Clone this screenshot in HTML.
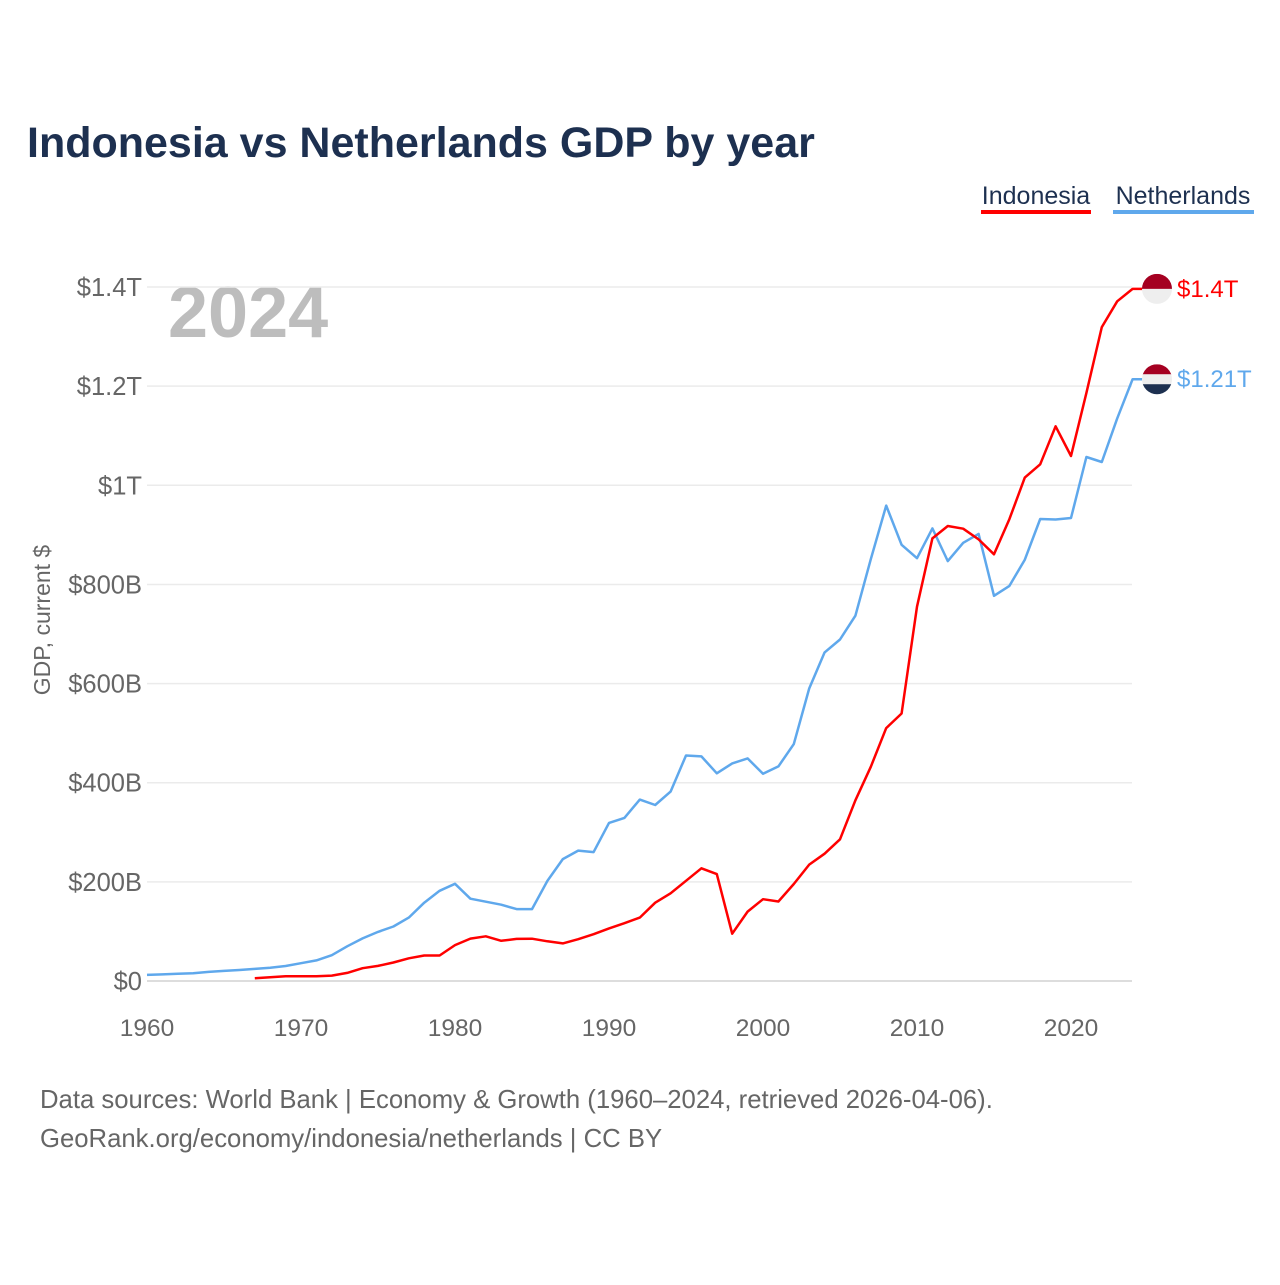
<!DOCTYPE html>
<html><head><meta charset="utf-8"><style>
body{margin:0;width:1280px;height:1280px;background:#fff;font-family:"Liberation Sans",sans-serif;overflow:hidden}
</style></head><body>
<svg width="1280" height="1280" id="chart" font-family="Liberation Sans, sans-serif">
<text x="27" y="157" font-size="43" font-weight="bold" fill="#1d3050">Indonesia vs Netherlands GDP by year</text>
<g>
<text x="1036" y="204" font-size="25" fill="#1d3050" text-anchor="middle">Indonesia</text>
<rect x="981" y="210" width="110" height="4" fill="#ff0000"/>
<text x="1183" y="204" font-size="25" fill="#1d3050" text-anchor="middle">Netherlands</text>
<rect x="1113" y="210" width="141" height="4" fill="#5fa8ec"/>
</g>
<text x="168" y="337" font-size="72" font-weight="bold" fill="#bdbdbd">2024</text>
<text transform="translate(50,620) rotate(-90)" font-size="23" fill="#666" text-anchor="middle">GDP, current $</text>
<g id="grid"></g><g id="lines"></g><g id="ends"></g>
<text x="40" y="1108" font-size="25.7" fill="#666">Data sources: World Bank | Economy &amp; Growth (1960–2024, retrieved 2026-04-06).</text>
<text x="40" y="1147" font-size="25.7" fill="#666">GeoRank.org/economy/indonesia/netherlands | CC BY</text>
</svg>
<script>
const yTicks=[0,200,400,600,800,1000,1200,1400];
const yTickLabels=["$0","$200B","$400B","$600B","$800B","$1T","$1.2T","$1.4T"];
const xTicks=[1960,1970,1980,1990,2000,2010,2020];
const nlStart=1960;
const nlValues=[12.3,13.3,14.5,15.6,18.3,20.4,22.2,24.4,26.9,30.3,36,41.5,52,70,86,99,110,128,158,182,196,166,160,154,145,145,202,246,263,260,319,329,366,355,382,455,453,419,439,449,418,433,478,590,663,689,737,851,959,880,853,913,847,884,902,777,797,850,932,931,934,1057,1047,1135,1214];
const idStart=1967;
const idValues=[5.7,7.6,9.6,9.7,9.5,10.8,16.3,25.8,30.5,37.3,45.8,51.4,51.5,72.5,85.5,90.2,81.1,85,85.3,80.1,75.9,84.3,94.5,106.1,116.6,128,158,176.9,202.1,227.4,215.7,95.4,140,165,160.4,195.7,234.8,256.8,285.9,364.6,432.2,510.2,539.6,755.1,892.9,917.9,912.5,890.8,860.9,931.9,1015.6,1042.3,1119.1,1059.1,1186.5,1319.1,1371.2,1396.3];
const X=y=>147+(y-1960)*15.4;
const Y=v=>981-v*0.4957;
const NS="http://www.w3.org/2000/svg";
function mk(t,a,p){const e=document.createElementNS(NS,t);for(const k in a)e.setAttribute(k,a[k]);p.appendChild(e);return e;}
const grid=document.getElementById('grid');
yTicks.forEach((v,i)=>{
const l=mk('line',{x1:147,x2:1132,y1:Y(v),y2:Y(v),stroke:i==0?'#ddd':'#ebebeb','stroke-width':i==0?2:1.5},grid);


const t=mk('text',{x:142,y:Y(v)+9,'font-size':25.5,fill:'#666','text-anchor':'end'},grid);
t.textContent=yTickLabels[i];


});
xTicks.forEach(yr=>{
const t=mk('text',{x:X(yr),y:1036,'font-size':24.5,fill:'#666','text-anchor':'middle'},grid);
t.textContent=yr;


});
const lines=document.getElementById('lines');
function series(vals,start,color,name){
const pts=vals.map((v,i)=>X(start+i).toFixed(1)+','+Y(v).toFixed(1));
const last=vals[vals.length-1];
pts.push('1143,'+Y(last).toFixed(1));
const p=mk('polyline',{points:pts.join(' '),fill:'none',stroke:color,'stroke-width':2.5,'stroke-linejoin':'round'},lines);


}
series(nlValues,nlStart,'#5fa8ec','netherlands');
series(idValues,idStart,'#ff0000','indonesia');
const ends=document.getElementById('ends');
function endLabel(v,color,name,stripes,label){
const cy=Y(v);
const g=mk('g',{},ends);


const cid='c'+name;
const cp=mk('clipPath',{id:cid},g);mk('circle',{cx:1157,cy:cy,r:15},cp);
stripes.forEach((c,i)=>mk('rect',{x:1142,y:cy-15+i*30/stripes.length,width:30,height:30/stripes.length+0.5,fill:c,'clip-path':'url(#'+cid+')'},g));
const t=mk('text',{x:1177,y:cy+8,'font-size':24,fill:color},ends);
t.textContent=label;


}
endLabel(idValues[idValues.length-1],'#ff0000','indonesia',['#a50021','#eeeeee'],'$1.4T');
endLabel(nlValues[nlValues.length-1],'#5fa8ec','netherlands',['#a50021','#eeeeee','#1d3050'],'$1.21T');
</script>
</body></html>
